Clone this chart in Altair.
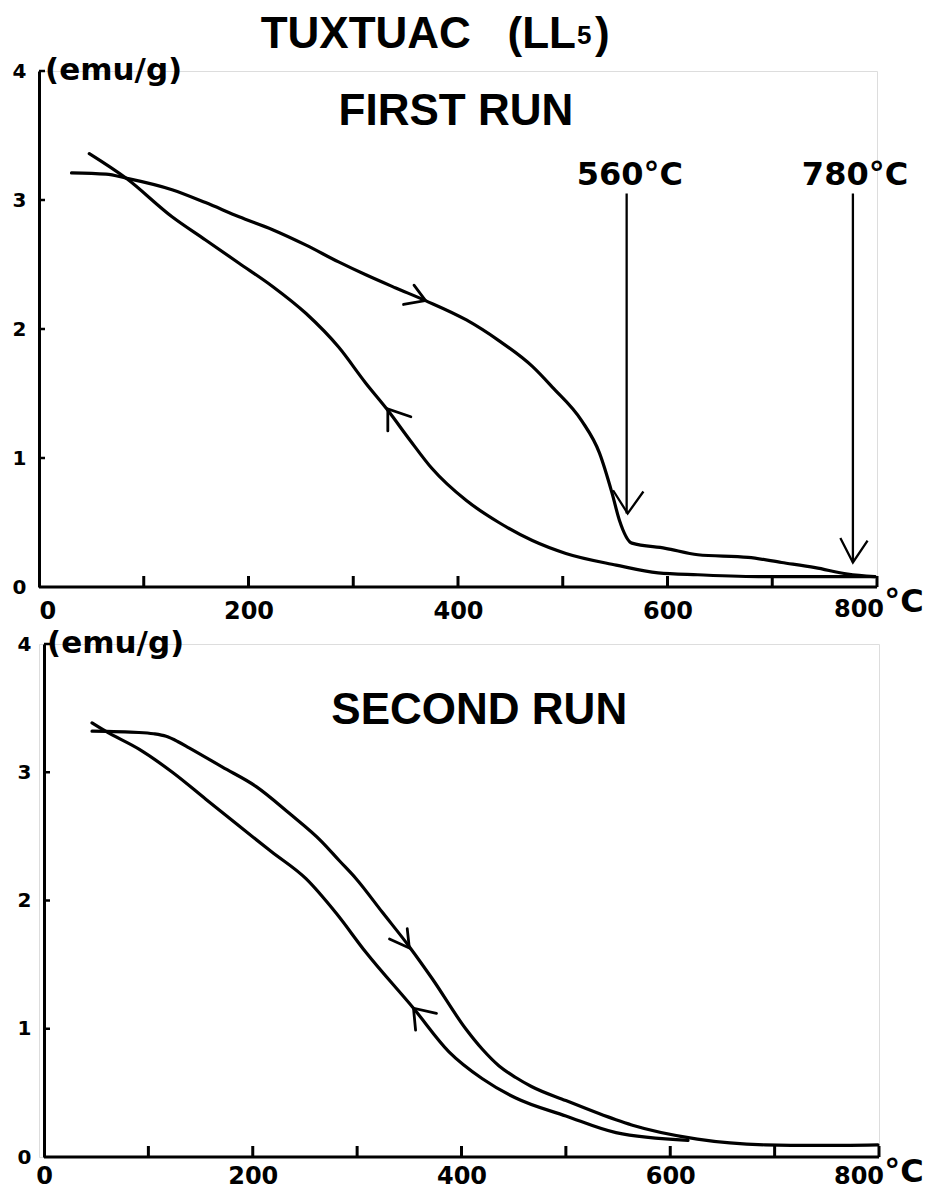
import altair as alt
import pandas as pd

# ---------------- data ----------------
# FIRST RUN : heating curve (arrow pointing right) and cooling curve
r1_heat_T = [31, 64, 83, 127, 159, 191, 223, 255, 286, 312, 340, 369, 408, 439, 471, 490,
             518, 535, 547, 554, 566, 598, 629, 677, 709, 741, 772, 798]
r1_heat_M = [3.21, 3.20, 3.17, 3.08, 2.98, 2.87, 2.77, 2.65, 2.52, 2.42, 2.32, 2.22, 2.07, 1.91,
             1.71, 1.55, 1.29, 1.04, 0.73, 0.52, 0.34, 0.30, 0.25, 0.23, 0.19, 0.15, 0.10, 0.08]
r1_cool_T = [48, 83, 127, 159, 191, 223, 255, 286, 312, 333, 354, 375, 408, 439, 471, 503,
             551, 591, 629, 693, 798]
r1_cool_M = [3.36, 3.17, 2.87, 2.69, 2.51, 2.33, 2.12, 1.86, 1.58, 1.37, 1.14, 0.92, 0.67, 0.50,
             0.36, 0.26, 0.17, 0.11, 0.095, 0.08, 0.08]

# SECOND RUN
r2_heat_T = [46, 91, 105, 117, 128, 139, 171, 203, 235, 266, 283, 299, 324, 350, 372, 404,
             420, 436, 452, 467, 500, 548, 563, 626, 691, 740, 799]
r2_heat_M = [3.32, 3.31, 3.30, 3.28, 3.24, 3.19, 3.04, 2.89, 2.68, 2.46, 2.31, 2.17, 1.91, 1.64,
             1.39, 1.00, 0.84, 0.71, 0.62, 0.55, 0.44, 0.29, 0.25, 0.14, 0.095, 0.09, 0.095]
r2_cool_T = [46, 59, 91, 123, 155, 187, 218, 251, 280, 308, 354, 388, 420, 452, 500, 548, 617]
r2_cool_M = [3.385, 3.32, 3.18, 3.0, 2.79, 2.58, 2.38, 2.17, 1.90, 1.60, 1.16, 0.82, 0.61, 0.46,
             0.32, 0.19, 0.13]

# direction chevrons on the curves: arm, tip, arm
r1_chev = {"heat": ([358, 369, 348], [2.34, 2.22, 2.19]),
           "cool": ([333, 333, 355], [1.21, 1.38, 1.32])}
r2_chev = {"heat": ([348, 350, 331], [1.78, 1.63, 1.70]),
           "cool": ([356, 354, 376], [0.99, 1.16, 1.12])}

# Curie-point arrows (first run)
curie_T = [561, 777]
curie_top = [3.05, 3.05]
curie_tip = [0.57, 0.19]
curie_head_T = [[548, 562, 577], [765, 777, 791]]
curie_head_M = [[0.75, 0.57, 0.74], [0.38, 0.19, 0.36]]
curie_labels = ["560°C", "780°C"]
curie_label_T = [564, 779]
curie_label_M = [3.12, 3.12]

x_range = [0, 800]
x_label_values = [0, 200, 400, 600]
x_minor_ticks = [100, 200, 300, 400, 500, 600, 700, 800]
y_label_values = [0, 1, 2, 3, 4]
y_minor_ticks = [1, 2, 3, 4]

BLACK = "#000000"
TICKFONT = "DejaVu Sans"
TITLEFONT = "Liberation Sans"
NB = "\u00a0"


def curves_df(heat_T, heat_M, cool_T, cool_M):
    a = pd.DataFrame({"T": heat_T, "M": heat_M, "curve": "heat", "i": range(len(heat_T))})
    b = pd.DataFrame({"T": cool_T, "M": cool_M, "curve": "cool", "i": range(len(cool_T))})
    return pd.concat([a, b], ignore_index=True)


def chev_df(chev):
    rows = []
    for k, (ts, ms) in chev.items():
        for i, (t, m) in enumerate(zip(ts, ms)):
            rows.append({"T": t, "M": m, "arrow": k, "i": i})
    return pd.DataFrame(rows)


def panel(heat_T, heat_M, cool_T, cool_M, chev, run_label, run_T, run_M, w, h,
          xlab_pad, degc_dx, degc_dy, n800_dx, n800_dy, xmin=0, yoff=0, unit_dx=5,
          extra=None):
    xsc = alt.Scale(domain=[xmin, 800], nice=False, zero=False)
    ysc = alt.Scale(domain=[0, 4], nice=False)
    xax = alt.Axis(values=x_label_values, format="d", ticks=False, tickSize=0, grid=False,
                   domain=False, labelFont=TICKFONT,
                   labelFontWeight="bold", labelFontSize=24, labelColor=BLACK,
                   labelPadding=xlab_pad, title=None)
    yax = alt.Axis(values=y_label_values, format="d", ticks=False, tickSize=0, grid=False,
                   domainColor=BLACK, domainWidth=3, labelFont=TICKFONT,
                   labelFontWeight="bold", labelFontSize=20, labelColor=BLACK,
                   labelPadding=13, title=None, offset=yoff)

    lines = alt.Chart(curves_df(heat_T, heat_M, cool_T, cool_M)).mark_line(
        color=BLACK, strokeWidth=3.2, interpolate="monotone", strokeCap="round"
    ).encode(
        x=alt.X("T:Q", scale=xsc, axis=xax),
        y=alt.Y("M:Q", scale=ysc, axis=yax),
        detail="curve:N",
        order="i:Q",
    )
    xline = alt.Chart(pd.DataFrame({"a": [x_range[0]], "b": [x_range[1]], "m": [0]})).mark_rule(
        color=BLACK, strokeWidth=3
    ).encode(x="a:Q", x2="b:Q", y="m:Q")

    chevs = alt.Chart(chev_df(chev)).mark_line(
        color=BLACK, strokeWidth=2.8, strokeCap="round", strokeJoin="miter"
    ).encode(x="T:Q", y="M:Q", detail="arrow:N", order="i:Q")

    xt = alt.Chart(pd.DataFrame({"T": x_minor_ticks})).mark_tick(
        orient="vertical", size=11, thickness=3, yOffset=-5.5, color=BLACK, opacity=1
    ).encode(x="T:Q", y=alt.datum(0))
    yt = alt.Chart(pd.DataFrame({"M": y_minor_ticks})).mark_tick(
        orient="horizontal", size=6, thickness=2.5, xOffset=3, color=BLACK, opacity=1
    ).encode(y="M:Q", x=alt.datum(0))

    n800 = alt.Chart(pd.DataFrame({"T": [800], "M": [0], "t": ["800"]})).mark_text(
        font=TICKFONT, fontWeight="bold", fontSize=24, color=BLACK, align="center",
        baseline="alphabetic", dx=n800_dx, dy=n800_dy
    ).encode(x="T:Q", y="M:Q", text="t:N")
    degc = alt.Chart(pd.DataFrame({"T": [800], "M": [0], "t": ["°C"]})).mark_text(
        font=TICKFONT, fontWeight="bold", fontSize=32, color=BLACK, align="center",
        baseline="alphabetic", dx=degc_dx, dy=degc_dy
    ).encode(x="T:Q", y="M:Q", text="t:N")

    unit = alt.Chart(pd.DataFrame({"T": [0], "M": [4], "t": ["(emu/g)"]})).mark_text(
        font=TICKFONT, fontWeight="bold", fontSize=31, color=BLACK, align="left",
        baseline="middle", dx=unit_dx
    ).encode(x="T:Q", y="M:Q", text="t:N")

    run = alt.Chart(pd.DataFrame({"T": [run_T], "M": [run_M], "t": [run_label]})).mark_text(
        font=TITLEFONT, fontWeight="bold", fontSize=44, color=BLACK, align="center",
        baseline="alphabetic"
    ).encode(x="T:Q", y="M:Q", text="t:N")

    layers = [lines, xline, chevs, xt, yt, n800, degc, unit, run]
    if extra:
        layers += extra
    return alt.layer(*layers).properties(width=w, height=h)


# ---- first-run extras: Curie arrows, their labels and the figure title ----
rules = alt.Chart(pd.DataFrame({"T": curie_T, "top": curie_top, "tip": curie_tip})).mark_rule(
    color=BLACK, strokeWidth=2.3
).encode(x="T:Q", y="top:Q", y2="tip:Q")

head_rows = []
for k, (ts, ms) in enumerate(zip(curie_head_T, curie_head_M)):
    for i, (t, m) in enumerate(zip(ts, ms)):
        head_rows.append({"T": t, "M": m, "head": k, "i": i})
heads = alt.Chart(pd.DataFrame(head_rows)).mark_line(
    color=BLACK, strokeWidth=2.3, strokeJoin="miter"
).encode(x="T:Q", y="M:Q", detail="head:N", order="i:Q")

curie_txt = alt.Chart(pd.DataFrame({"T": curie_label_T, "M": curie_label_M,
                                    "t": curie_labels})).mark_text(
    font=TICKFONT, fontWeight="bold", fontSize=32, color=BLACK, align="center",
    baseline="alphabetic"
).encode(x="T:Q", y="M:Q", text="t:N")

title_main = alt.Chart(pd.DataFrame({"T": [512.6], "M": [4.178],
                                     "t": ["TUXTUAC" + NB * 3 + "(LL"]})).mark_text(
    font=TITLEFONT, fontWeight="bold", fontSize=44, color=BLACK, align="right",
    baseline="alphabetic"
).encode(x="T:Q", y="M:Q", text="t:N")
title_sub = alt.Chart(pd.DataFrame({"T": [513.6], "M": [4.21], "t": ["5"]})).mark_text(
    font=TITLEFONT, fontWeight="bold", fontSize=26, color=BLACK, align="left",
    baseline="alphabetic"
).encode(x="T:Q", y="M:Q", text="t:N")
title_end = alt.Chart(pd.DataFrame({"T": [530.8], "M": [4.178], "t": [")"]})).mark_text(
    font=TITLEFONT, fontWeight="bold", fontSize=44, color=BLACK, align="left",
    baseline="alphabetic"
).encode(x="T:Q", y="M:Q", text="t:N")

top = panel(r1_heat_T, r1_heat_M, r1_cool_T, r1_cool_M, r1_chev, "FIRST RUN", 398, 3.58,
            838, 516, xlab_pad=12, degc_dx=27, degc_dy=25, n800_dx=-18, n800_dy=30,
            unit_dx=6,
            extra=[rules, heads, curie_txt, title_main, title_sub, title_end])
bottom = panel(r2_heat_T, r2_heat_M, r2_cool_T, r2_cool_M, r2_chev, "SECOND RUN", 417, 3.38,
               840, 513, xlab_pad=7.5, degc_dx=25, degc_dy=25, n800_dx=-20, n800_dy=27,
               xmin=-4.8, yoff=-5, unit_dx=3)

chart = alt.vconcat(top, bottom, spacing=57, bounds="flush").properties(
    padding={"left": 3, "top": 4, "right": 0, "bottom": 0}
).configure_view(stroke=None).configure(background="white")

chart.save("out.html", embed_options={"renderer": "svg", "actions": False})
